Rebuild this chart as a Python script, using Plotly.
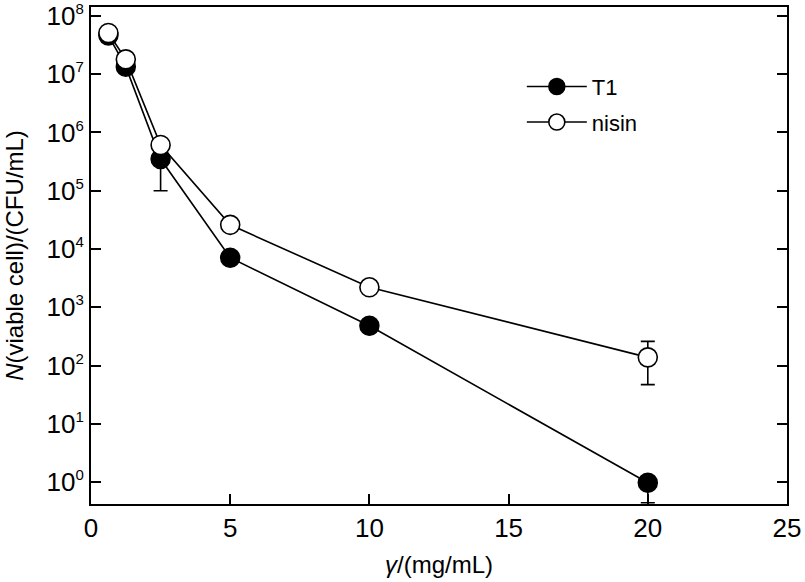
import plotly.graph_objects as go

conc = [0.625, 1.25, 2.5, 5, 10, 20]
t1_vals = [4.6e7, 1.35e7, 3.5e5, 7.1e3, 480, 0.97]
t1_err_plus = [0, 0, 0, 0, 0, 0]
t1_err_minus = [0, 0, 2.5e5, 0, 0, 0.53]
nisin_vals = [5.1e7, 1.8e7, 6.1e5, 2.6e4, 2.2e3, 138]
nisin_err_plus = [0, 0, 0, 0, 0, 122]
nisin_err_minus = [0, 0, 0, 0, 0, 91]

y_exponents = list(range(9))
y_tickvals = [10 ** i for i in y_exponents]
y_ticktext = [f"10<sup><span style='font-size:15px'>{i}</span></sup>" for i in y_exponents]
x_tickvals = [0, 5, 10, 15, 20, 25]

FONT = "Liberation Sans, Arial, sans-serif"

fig = go.Figure()
fig.add_trace(go.Scatter(
    x=conc, y=t1_vals, name="T1", mode="lines+markers",
    line=dict(color="black", width=1.6),
    marker=dict(symbol="circle", size=19, color="black", line=dict(color="black", width=1.5)),
    error_y=dict(type="data", symmetric=False, array=t1_err_plus, arrayminus=t1_err_minus,
                 color="black", thickness=1.6, width=7),
    legendgroup="a",
))
fig.add_trace(go.Scatter(
    x=conc, y=nisin_vals, name="nisin", mode="lines+markers",
    line=dict(color="black", width=1.6),
    marker=dict(symbol="circle", size=19, color="white", line=dict(color="black", width=1.6)),
    error_y=dict(type="data", symmetric=False, array=nisin_err_plus, arrayminus=nisin_err_minus,
                 color="black", thickness=1.6, width=7),
    legendgroup="b",
))

fig.update_layout(
    width=805, height=582,
    margin=dict(l=91, r=18, t=7, b=78),
    plot_bgcolor="white", paper_bgcolor="white",
    font=dict(family=FONT, color="black"),
    showlegend=True,
    legend=dict(x=0.619, y=0.882, xanchor="left", yanchor="top",
                font=dict(size=22, family=FONT), bgcolor="rgba(0,0,0,0)",
                tracegroupgap=4, itemwidth=60),
    xaxis=dict(range=[0, 25], tickvals=x_tickvals, ticks="inside", ticklen=10, tickwidth=2,
               tickcolor="black", showline=True, linecolor="black", linewidth=2, mirror=True,
               showgrid=False, zeroline=False, tickfont=dict(size=26, family=FONT),
               automargin=False,
               title=dict(text="<i>γ</i>/(mg/mL)", font=dict(size=24, family=FONT), standoff=14)),
    yaxis=dict(type="log", range=[-0.377, 8.154], tickvals=y_tickvals, ticktext=y_ticktext,
               ticks="inside", ticklen=10, tickwidth=2, tickcolor="black",
               showline=True, linecolor="black", linewidth=2, mirror="ticks",
               showgrid=False, zeroline=False, tickfont=dict(size=26, family=FONT),
               automargin=False,
               title=dict(text="<i>N</i>(viable cell)/(CFU/mL)", font=dict(size=24, family=FONT), standoff=16)),
)

fig.write_html("out.html", config={"displayModeBar": False},
               post_script="document.body.style.margin='0px';")
